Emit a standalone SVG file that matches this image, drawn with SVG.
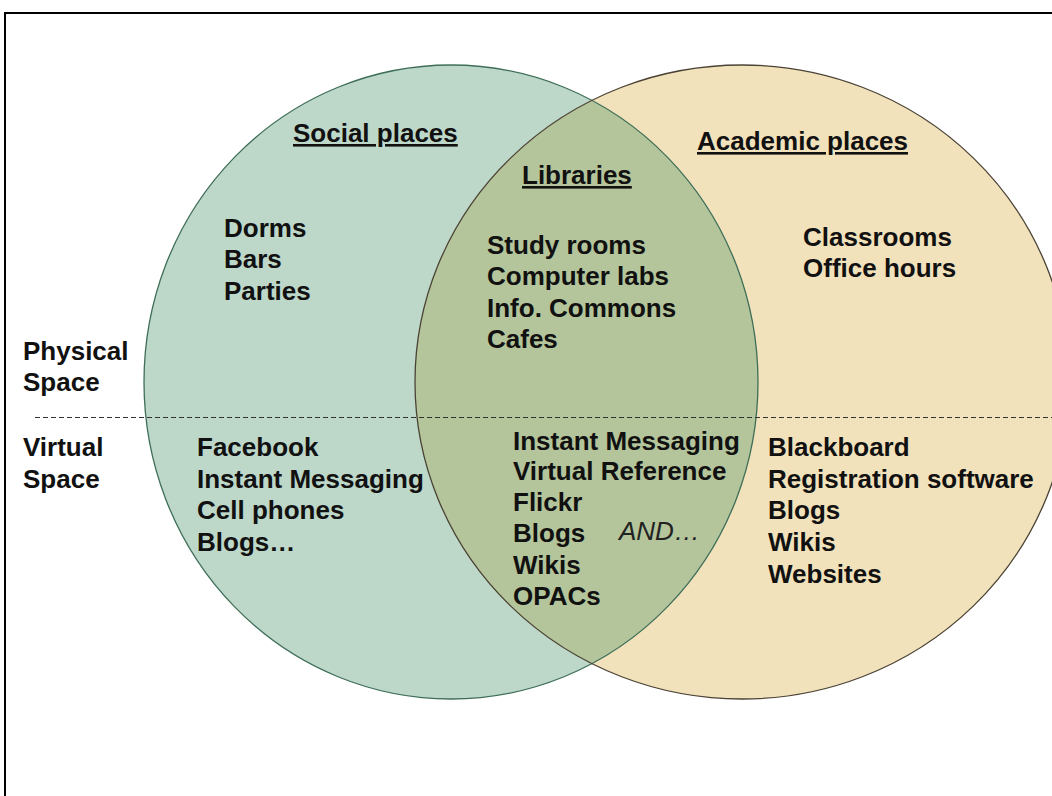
<svg xmlns="http://www.w3.org/2000/svg" width="1052" height="796" viewBox="0 0 1052 796">
<defs>
<style>
.t{font-family:"Liberation Sans",Arial,sans-serif;font-weight:bold;font-size:26px;fill:#111;}
.u{text-decoration:underline;}
.i{font-family:"Liberation Sans",Arial,sans-serif;font-style:italic;font-size:26px;fill:#222;}
</style>
<clipPath id="clipL"><ellipse cx="451" cy="382" rx="307" ry="317"/></clipPath>
</defs>
<rect x="0" y="0" width="1052" height="796" fill="#fff"/>
<rect x="5" y="13" width="1070" height="800" fill="none" stroke="#000" stroke-width="2"/>
<g id="social">
<ellipse cx="451" cy="382" rx="307" ry="317" fill="#bdd7c9"/>
</g>
<g id="academic">
<ellipse cx="742" cy="382" rx="327" ry="317" fill="#f1e2bc"/>
</g>
<g id="libraries">
<ellipse cx="742" cy="382" rx="327" ry="317" fill="#b4c59b" clip-path="url(#clipL)"/>
</g>
<g id="outlines" fill="none">
<ellipse cx="451" cy="382" rx="307" ry="317" stroke="#3e6e58" stroke-width="1.3"/>
<ellipse cx="742" cy="382" rx="327" ry="317" stroke="#4a4234" stroke-width="1.3"/>
</g>
<g id="divider">
<line x1="35" y1="417.5" x2="1052" y2="417.5" stroke="#333" stroke-width="1" stroke-dasharray="5,3"/>
</g>
<g id="labels">
<text class="t" x="23" y="360">Physical</text>
<text class="t" x="23" y="391">Space</text>
<text class="t" x="23" y="456">Virtual</text>
<text class="t" x="23" y="488">Space</text>
</g>
<g id="social-text">
<text class="t u" x="293" y="142">Social places</text>
<text class="t" x="224" y="237">Dorms</text>
<text class="t" x="224" y="268">Bars</text>
<text class="t" x="224" y="300">Parties</text>
<text class="t" x="197" y="456">Facebook</text>
<text class="t" x="197" y="488">Instant Messaging</text>
<text class="t" x="197" y="519">Cell phones</text>
<text class="t" x="197" y="551">Blogs…</text>
</g>
<g id="libraries-text">
<text class="t u" x="522" y="184">Libraries</text>
<text class="t" x="487" y="254">Study rooms</text>
<text class="t" x="487" y="285">Computer labs</text>
<text class="t" x="487" y="317">Info. Commons</text>
<text class="t" x="487" y="348">Cafes</text>
<text class="t" x="513" y="450">Instant Messaging</text>
<text class="t" x="513" y="480">Virtual Reference</text>
<text class="t" x="513" y="511">Flickr</text>
<text class="t" x="513" y="542">Blogs</text>
<text class="t" x="513" y="574">Wikis</text>
<text class="t" x="513" y="605">OPACs</text>
<text class="i" x="619" y="540">AND…</text>
</g>
<g id="academic-text">
<text class="t u" x="697" y="150">Academic places</text>
<text class="t" x="803" y="246">Classrooms</text>
<text class="t" x="803" y="277">Office hours</text>
<text class="t" x="768" y="456">Blackboard</text>
<text class="t" x="768" y="488">Registration software</text>
<text class="t" x="768" y="519">Blogs</text>
<text class="t" x="768" y="551">Wikis</text>
<text class="t" x="768" y="583">Websites</text>
</g>
</svg>
